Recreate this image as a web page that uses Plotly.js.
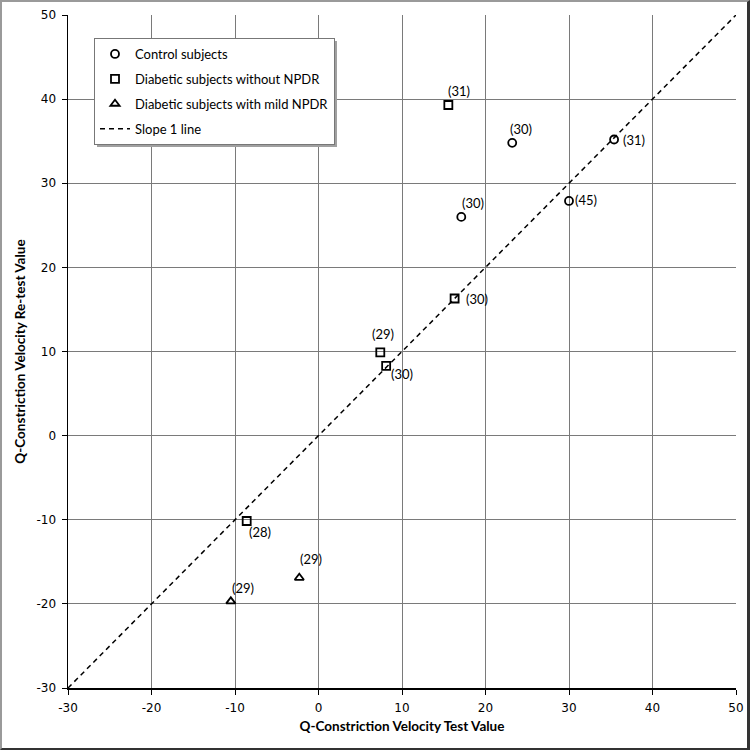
<!DOCTYPE html>
<html>
<head>
<meta charset="utf-8">
<script src="https://cdn.plot.ly/plotly-3.0.1.min.js"></script>
<style>
  body { margin: 0; background: #fff; }
  #wrap { position: relative; width: 750px; height: 750px; }
  #chart { width: 750px; height: 750px; }
  #frame { position: absolute; left: 0; top: 0; width: 750px; height: 750px; box-sizing: border-box;
           border-left: 2px solid #9a9a9a; border-top: 2px solid #9a9a9a;
           border-right: 3px solid #333; border-bottom: 2px solid #333; pointer-events: none; }
</style>
</head>
<body>
<div id="wrap"><div id="chart"></div><div id="frame"></div></div>
<script>
// control subjects
const controlX = [17.1, 23.2, 30.0, 35.4];
const controlY = [26.0, 34.8, 27.9, 35.2];
const controlN = ["(30)", "(30)", "(45)", "(31)"];

// diabetic without NPDR
const noNpdrX = [-8.6, 7.4, 8.1, 16.3, 15.55];
const noNpdrY = [-10.15, 9.9, 8.3, 16.3, 39.3];
const noNpdrN = ["(28)", "(29)", "(30)", "(30)", "(31)"];

// diabetic with mild NPDR
const mildX = [-10.5, -2.3];
const mildY = [-19.7, -16.9];
const mildN = ["(29)", "(29)"];

const slopeLine = [-30, 50];
const tickVals = [-30, -20, -10, 0, 10, 20, 30, 40, 50];
const tickText = ["-30", "-20", "-10", "0", "10", "20", "30", "40", "50"];

// label offsets in px (x right, y up)
const controlShift = [[12, 14], [9, 14], [17, 1], [20, 0]];
const noNpdrShift = [[13, -11], [3, 18], [16, -8], [22, 0], [11, 14]];
const mildShift = [[12, 13], [12, 19]];

const font = "Lato, 'Open Sans', sans-serif";
const tickFont = "'DejaVu Sans', Verdana, sans-serif";

function pts(name, x, y, symbol, group) {
    return {
        x: x, y: y, name: name, mode: "markers", type: "scatter", legendgroup: group,
        marker: { symbol: symbol, size: 8, color: "black", line: { color: "black", width: 1.8 } }
    };
}

const traces = [
    pts("Control subjects", controlX, controlY, "circle-open", "a"),
    pts("Diabetic subjects without NPDR", noNpdrX, noNpdrY, "square-open", "b"),
    pts("Diabetic subjects with mild NPDR", mildX, mildY, "triangle-up-open", "c"),
    {
        x: slopeLine, y: slopeLine, name: "Slope 1 line", mode: "lines", type: "scatter", legendgroup: "d",
        line: { color: "black", width: 1.5, dash: "5px,4px" }
    }
];

const annotations = [];
function addLabels(x, y, n, shift) {
    for (let i = 0; i < x.length; i++) {
        annotations.push({
            x: x[i], y: y[i], text: n[i], showarrow: false,
            xshift: shift[i][0], yshift: shift[i][1],
            font: { family: font, size: 13, color: "black" }
        });
    }
}
addLabels(controlX, controlY, controlN, controlShift);
addLabels(noNpdrX, noNpdrY, noNpdrN, noNpdrShift);
addLabels(mildX, mildY, mildN, mildShift);

const axis = {
    range: [-30, 50], tickvals: tickVals, ticktext: tickText,
    showgrid: true, gridcolor: "#7a7a7a", gridwidth: 1,
    zeroline: false, showline: true, linecolor: "black", linewidth: 1.5,
    ticks: "outside", ticklen: 5, tickcolor: "black", ticklabelstandoff: 3,
    tickfont: { family: tickFont, size: 12, color: "black" }
};

// legend box in px, used for the drop shadow
const legLeft = 94, legTop = 38, legRight = 334, legBottom = 144;
const px2x = p => (p - 68) / 668;
const px2y = p => 1 - (p - 15) / 673;

const layout = {
    width: 750, height: 750,
    margin: { l: 68, r: 14, t: 15, b: 62 },
    paper_bgcolor: "white", plot_bgcolor: "white",
    showlegend: true,
    legend: {
        x: px2x(legLeft), y: px2y(legTop), xanchor: "left", yanchor: "top",
        bgcolor: "white", bordercolor: "#777", borderwidth: 1,
        font: { family: font, size: 13, color: "black" },
        tracegroupgap: 5, traceorder: "grouped"
    },
    shapes: [{
        type: "rect", xref: "paper", yref: "paper", layer: "above",
        x0: px2x(legLeft + 3), x1: px2x(legRight + 3), y0: px2y(legTop + 3), y1: px2y(legBottom + 3),
        fillcolor: "#a0a0a0", line: { width: 0 }
    }],
    xaxis: Object.assign({}, axis, {
        title: { text: "<b>Q-Constriction Velocity Test Value</b>", font: { family: font, size: 13.5, color: "black" }, standoff: 7 }
    }),
    yaxis: Object.assign({}, axis, {
        title: { text: "<b>Q-Constriction Velocity Re-test Value</b>", font: { family: font, size: 13.5, color: "black" }, standoff: 8 }
    }),
    annotations: annotations
};

Plotly.newPlot("chart", traces, layout, { staticPlot: true });
</script>
</body>
</html>
